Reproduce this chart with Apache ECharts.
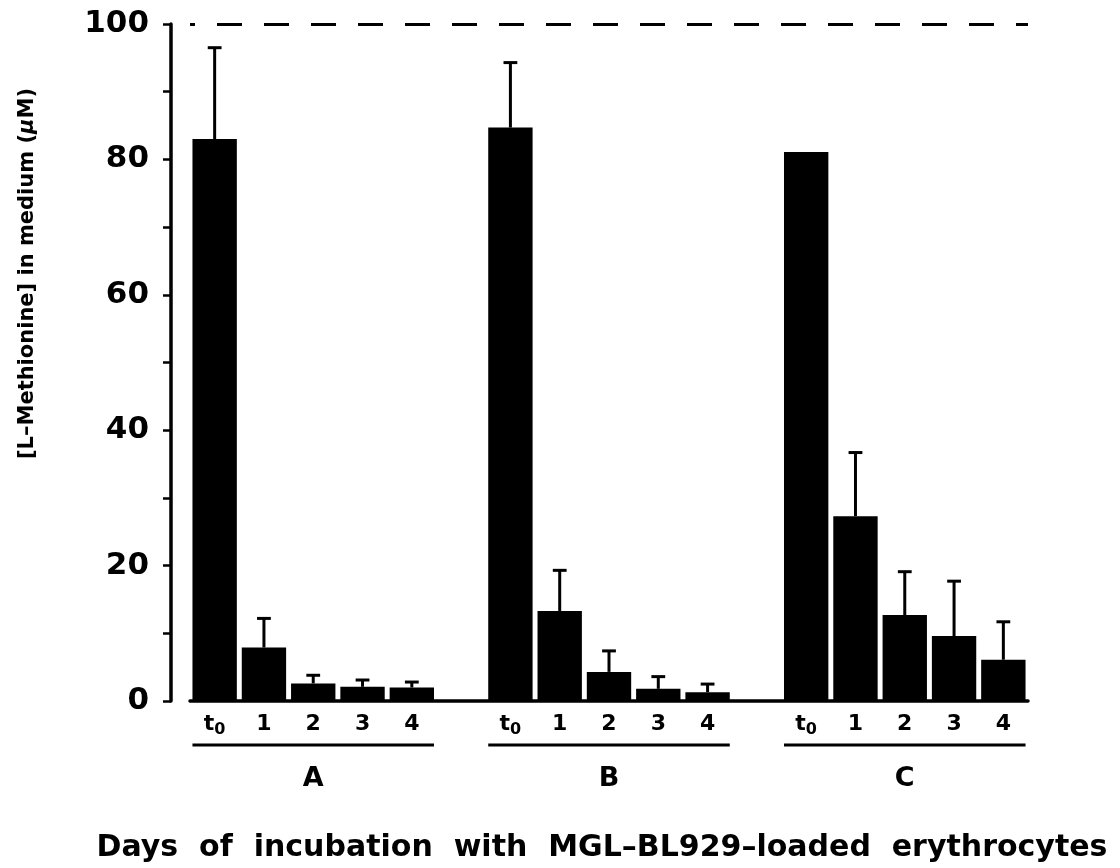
<!DOCTYPE html>
<html>
<head>
<meta charset="utf-8">
<title>L-Methionine in medium</title>
<script src="https://cdn.jsdelivr.net/npm/echarts@6/dist/echarts.min.js"></script>
<style>
    html, body { margin:0; padding:0; background:#fff; }
    #chart { width:1120px; height:868px; }
</style>
</head>
<body>
<div id="chart"></div>
<script>
    // groups and days of incubation
    var groupNames = ['A', 'B', 'C'];
    var dayLabels = ['t0', '1', '2', '3', '4'];

    // mean and SD (uM) per group
    var meanA = [83.0, 7.9, 2.6, 2.1, 2.0];
    var sdA = [13.5, 4.3, 1.2, 1.0, 0.8];
    var meanB = [84.7, 13.3, 4.3, 1.8, 1.3];
    var sdB = [9.6, 6.0, 3.1, 1.8, 1.2];
    var meanC = [81.1, 27.3, 12.7, 9.6, 6.1];
    var sdC = [0, 9.4, 6.4, 8.1, 5.6];

    // y axis
    var yMin = 0;
    var yMax = 100;
    var yStep = 10;
    var yLabelStep = 20;
    var refLevel = 100;

    var xTitle = 'Days  of  incubation  with  MGL\u2013BL929\u2013loaded  erythrocytes';
    var FONT = 'DejaVu Sans';

    // build one category axis: 5 bars per group, one empty slot between groups
    var categories = [];
    var barData = [];
    var errData = [];
    var groupSpans = [];
    var means = [meanA, meanB, meanC];
    var sds = [sdA, sdB, sdC];
    for(var g=0; g<groupNames.length; g++){
        if(g > 0){
            categories.push('');
            barData.push(null);
        }
        var start = categories.length;
        for(var d=0; d<dayLabels.length; d++){
            var idx = categories.length;
            categories.push(dayLabels[d]);
            barData.push(means[g][d]);
            if(sds[g][d] > 0){
                errData.push([idx, means[g][d], means[g][d] + sds[g][d]]);
            }
        }
        groupSpans.push([start, categories.length - 1]);
    }

    var chart = echarts.init(document.getElementById('chart'));

    var option = {
        backgroundColor:'#fff',
        animation:false,
        grid:{
            left:190,
            right:92,
            top:24,
            bottom:167
        },
        xAxis:{
            type:'category',
            data:categories,
            axisLine:{ show:true, lineStyle:{ color:'#000', width:3.5 } },
            axisTick:{ show:false },
            axisLabel:{
                interval:0,
                margin:12,
                formatter:function(v){
                    if(v === 't0'){
                        return '{t|t}{s|0}';
                    }
                    return '{n|' + v + '}';
                },
                rich:{
                    t:{ fontFamily:FONT, fontWeight:'bold', fontSize:22, color:'#000', lineHeight:26, verticalAlign:'top' },
                    s:{ fontFamily:FONT, fontWeight:'bold', fontSize:16, color:'#000', lineHeight:26, verticalAlign:'top', padding:[9, 0, 0, 0] },
                    n:{ fontFamily:FONT, fontWeight:'bold', fontSize:22, color:'#000', lineHeight:26, verticalAlign:'top' }
                }
            },
            name:xTitle,
            nameLocation:'middle',
            nameGap:132,
            nameTextStyle:{ fontFamily:FONT, fontWeight:'bold', fontSize:30, color:'#000', padding:[0, 14, 0, 0] }
        },
        yAxis:{
            type:'value',
            min:yMin,
            max:yMax,
            interval:yStep,
            offset:19,
            axisLine:{ show:true, lineStyle:{ color:'#000', width:3.5 } },
            axisTick:{ show:true, length:8, lineStyle:{ color:'#000', width:2.5 } },
            splitLine:{ show:false },
            axisLabel:{
                margin:22,
                fontFamily:FONT,
                fontWeight:'bold',
                fontSize:31,
                color:'#000',
                formatter:function(v){
                    return v % yLabelStep === 0 ? String(v) : '';
                }
            }
        },
        graphic:[{
            type:'text',
            left:17,
            top:88,
            rotation:Math.PI / 2,
            style:{
                text:'[L\u2013Methionine] in medium ({i|\u03bc}M)',
                fontFamily:FONT,
                fontWeight:'bold',
                fontSize:21,
                fill:'#000',
                rich:{
                    i:{ fontFamily:FONT, fontWeight:'bold', fontStyle:'italic', fontSize:21, fill:'#000' }
                }
            }
        }],
        series:[
            {
                type:'bar',
                data:barData,
                barCategoryGap:'10%',
                itemStyle:{ color:'#000' },
                markLine:{
                    silent:true,
                    symbol:'none',
                    label:{ show:false },
                    lineStyle:{ color:'#000', width:3, type:[25, 22], dashOffset:20 },
                    data:[{ yAxis:refLevel }]
                }
            },
            {
                // upper error bars
                type:'custom',
                data:errData,
                clip:false,
                z:3,
                renderItem:function(params, api){
                    var base = api.coord([api.value(0), api.value(1)]);
                    var top = api.coord([api.value(0), api.value(2)]);
                    var cap = api.size([1, 0])[0] * 0.14;
                    return {
                        type:'group',
                        children:[{
                            type:'line',
                            shape:{ x1:base[0], y1:base[1], x2:top[0], y2:top[1] },
                            style:{ stroke:'#000', lineWidth:3 }
                        }, {
                            type:'line',
                            shape:{ x1:top[0] - cap, y1:top[1], x2:top[0] + cap, y2:top[1] },
                            style:{ stroke:'#000', lineWidth:3 }
                        }]
                    };
                }
            },
            {
                // group underline and letter
                type:'custom',
                data:groupSpans,
                clip:false,
                renderItem:function(params, api){
                    var p0 = api.coord([api.value(0), 0]);
                    var p1 = api.coord([api.value(1), 0]);
                    var half = api.size([1, 0])[0] * 0.45;
                    var y = p0[1] + 44;
                    return {
                        type:'group',
                        children:[{
                            type:'line',
                            shape:{ x1:p0[0] - half, y1:y, x2:p1[0] + half, y2:y },
                            style:{ stroke:'#000', lineWidth:3 }
                        }, {
                            type:'text',
                            x:(p0[0] + p1[0]) / 2,
                            y:y + 34,
                            style:{
                                text:groupNames[params.dataIndex],
                                fontFamily:FONT,
                                fontWeight:'bold',
                                fontSize:27,
                                fill:'#000',
                                align:'center',
                                verticalAlign:'middle'
                            }
                        }]
                    };
                }
            }
        ]
    };

    chart.setOption(option);
</script>
</body>
</html>
